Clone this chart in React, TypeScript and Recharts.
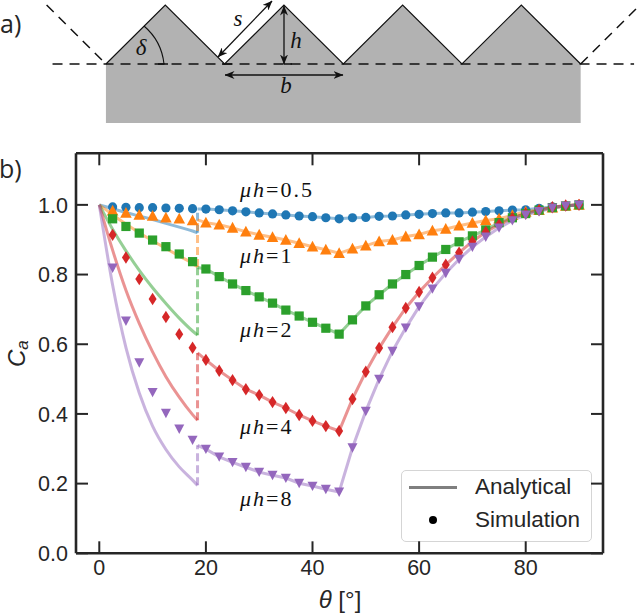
import { Area, ComposedChart, Legend, Line, XAxis, YAxis } from "recharts";

// panel b: simulation points, one every 2.5 degrees
const simTheta = [
  2.5, 5, 7.5, 10, 12.5, 15, 17.5, 20, 22.5, 25, 27.5, 30, 32.5, 35, 37.5, 40, 42.5, 45,
  47.5, 50, 52.5, 55, 57.5, 60, 62.5, 65, 67.5, 70, 72.5, 75, 77.5, 80, 82.5, 85, 87.5, 90,
];
const sim05 = [
  0.994, 0.993, 0.992, 0.992, 0.991, 0.99, 0.989, 0.988, 0.986, 0.983, 0.98, 0.977, 0.974, 0.971, 0.968, 0.966, 0.963, 0.96,
  0.963, 0.964, 0.967, 0.968, 0.971, 0.973, 0.975, 0.977, 0.977, 0.979, 0.981, 0.983, 0.985, 0.986, 0.99, 0.994, 0.997, 1.0,
];
const sim1 = [
  0.983, 0.977, 0.971, 0.968, 0.963, 0.96, 0.955, 0.949, 0.943, 0.934, 0.923, 0.914, 0.907, 0.899, 0.89, 0.88, 0.871, 0.861,
  0.874, 0.883, 0.895, 0.899, 0.909, 0.915, 0.926, 0.931, 0.94, 0.948, 0.955, 0.96, 0.97, 0.98, 0.985, 0.992, 0.997, 1.0,
];
const sim2 = [
  0.96, 0.938, 0.919, 0.899, 0.88, 0.859, 0.837, 0.816, 0.794, 0.773, 0.754, 0.736, 0.718, 0.698, 0.681, 0.663, 0.646, 0.629,
  0.67, 0.71, 0.742, 0.773, 0.8, 0.826, 0.85, 0.872, 0.894, 0.911, 0.928, 0.949, 0.963, 0.975, 0.985, 0.992, 0.997, 1.0,
];
const sim4 = [
  0.914, 0.849, 0.787, 0.73, 0.678, 0.629, 0.59, 0.555, 0.524, 0.497, 0.471, 0.454, 0.434, 0.417, 0.397, 0.38, 0.365, 0.351,
  0.443, 0.521, 0.589, 0.649, 0.704, 0.75, 0.791, 0.828, 0.863, 0.895, 0.922, 0.944, 0.962, 0.975, 0.985, 0.993, 0.998, 1.0,
];
const sim8 = [
  0.819, 0.667, 0.547, 0.462, 0.402, 0.357, 0.325, 0.299, 0.277, 0.261, 0.247, 0.233, 0.224, 0.216, 0.201, 0.193, 0.184, 0.176,
  0.303, 0.408, 0.5, 0.58, 0.647, 0.708, 0.759, 0.804, 0.844, 0.879, 0.908, 0.934, 0.955, 0.971, 0.981, 0.991, 0.997, 1.0,
];

// analytical branch below the jump at 18.43 degrees
const lowTheta = [0, 2.5, 5, 7.5, 10, 12.5, 15, 17.5, 18.43];
const low05 = [1, 0.989, 0.978, 0.968, 0.958, 0.947, 0.936, 0.925, 0.92];
const low1 = [1, 0.972, 0.945, 0.92, 0.897, 0.875, 0.853, 0.832, 0.822];
const low2 = [1, 0.93, 0.868, 0.812, 0.762, 0.717, 0.675, 0.638, 0.626];
const low4 = [1, 0.87, 0.755, 0.66, 0.578, 0.507, 0.448, 0.398, 0.382];
const low8 = [1, 0.77, 0.59, 0.46, 0.365, 0.298, 0.248, 0.21, 0.195];

// values just above the jump
const jumpTheta = 18.43;
const jumpTop = [0.988, 0.957, 0.82, 0.575, 0.31];

const xTicks = [0, 20, 40, 60, 80];
const yTicks = [0, 0.2, 0.4, 0.6, 0.8, 1.0];
const xDomain = [-4.37, 94.5];
const yDomain = [0, 1.148];

const COLORS = ["#1f77b4", "#ff7f0e", "#2ca02c", "#d62728", "#9467bd"];
const INK = "#262626";
const SANS = "'Liberation Sans', Arial, sans-serif";
const SERIF = "'Liberation Serif', serif";

// panel a: the roof profile, in units of b and h
const profileX = [0, 0.5, 1, 1.5, 2, 2.5, 3, 3.5, 4];
const profileY = [0, 1, 0, 1, 0, 1, 0, 1, 0];
const baseX = [-0.45, 4.45];
const baseY = [0, 0];
const dashLeftX = [-0.5, 0];
const dashLeftY = [1, 0];
const dashRightX = [4, 4.5];
const dashRightY = [0, 1];

const zip = (xs: number[], ys: number[]) => xs.map((x, i) => ({ x, y: ys[i] }));

const simRows = [sim05, sim1, sim2, sim4, sim8].map((ys) => zip(simTheta, ys));
const lowRows = [low05, low1, low2, low4, low8].map((ys) => zip(lowTheta, ys));
const highRows = [sim05, sim1, sim2, sim4, sim8].map((ys, i) => [
  { x: jumpTheta, y: jumpTop[i] },
  ...zip(simTheta.slice(7), ys.slice(7)),
]);
const jumpRows = lowRows.map((rows, i) => [
  rows[rows.length - 1],
  { x: jumpTheta, y: jumpTop[i] },
]);

const Marker = (kind: number) => (props: any) => {
  const { cx, cy, key } = props;
  const fill = COLORS[kind];
  if (kind === 0) return <circle key={key} cx={cx} cy={cy} r={4.6} fill={fill} />;
  if (kind === 1)
    return <path key={key} d={`M${cx} ${cy - 6}L${cx + 5.8} ${cy + 4.8}L${cx - 5.8} ${cy + 4.8}Z`} fill={fill} />;
  if (kind === 2) return <rect key={key} x={cx - 4.6} y={cy - 4.6} width={9.2} height={9.2} fill={fill} />;
  if (kind === 3)
    return <path key={key} d={`M${cx} ${cy - 6.2}L${cx + 4} ${cy}L${cx} ${cy + 6.2}L${cx - 4} ${cy}Z`} fill={fill} />;
  return <path key={key} d={`M${cx - 5} ${cy - 4.4}L${cx + 5} ${cy - 4.4}L${cx} ${cy + 5}Z`} fill={fill} />;
};

const FRAME = { stroke: INK, strokeWidth: 2.6 };
const TICK_TEXT = { fontSize: 21.5, fontFamily: SANS, fill: INK };

const LegendBox = () => (
  <div
    style={{
      position: "relative",
      width: 189,
      height: 70,
      background: "rgba(255,255,255,0.8)",
      border: "1.5px solid #d5d5d5",
      borderRadius: 5,
      fontFamily: SANS,
      fontSize: 22.5,
      color: INK,
    }}
  >
    <div style={{ position: "absolute", left: 7, top: 15, width: 48, height: 3, background: "#7f7f7f" }} />
    <div style={{ position: "absolute", left: 27, top: 45, width: 8, height: 8, borderRadius: 4, background: "#000" }} />
    <div style={{ position: "absolute", left: 73, top: 3 }}>Analytical</div>
    <div style={{ position: "absolute", left: 73, top: 36 }}>Simulation</div>
  </div>
);

const MuLabel = ({ y, value }: { y: number; value: string }) => (
  <text x={240} y={y} fontFamily={SERIF} fontSize={22} letterSpacing={2} fill="#111">
    <tspan fontStyle="italic">μh</tspan>={value}
  </text>
);

const MathText = ({ x, y, children }: any) => (
  <text x={x} y={y} fontFamily={SERIF} fontStyle="italic" fontSize={23} fill="#111" textAnchor="middle">
    {children}
  </text>
);

const PanelA = () => (
  <ComposedChart width={640} height={135} margin={{ top: 0, right: 0, bottom: 0, left: 0 }}>
    <XAxis type="number" dataKey="x" domain={[-0.8926, 4.5]} allowDataOverflow hide />
    <YAxis type="number" domain={[-1.203, 1.085]} allowDataOverflow hide />
    <Area
      data={zip(profileX, profileY)}
      dataKey="y"
      type="linear"
      baseValue={-1}
      fill="#b2b2b2"
      fillOpacity={1}
      stroke="none"
      isAnimationActive={false}
    />
    <Line data={zip(profileX, profileY)} dataKey="y" stroke="#111" strokeWidth={1.2} dot={false} isAnimationActive={false} />
    {[zip(baseX, baseY), zip(dashLeftX, dashLeftY), zip(dashRightX, dashRightY)].map((rows, i) => (
      <Line
        key={i}
        data={rows}
        dataKey="y"
        stroke="#111"
        strokeWidth={1.5}
        strokeDasharray="10 7"
        dot={false}
        isAnimationActive={false}
      />
    ))}
  </ComposedChart>
);

// arrows and symbols of the schematic, laid over the chart
const PanelANotes = () => (
  <svg width={640} height={135} style={{ position: "absolute", left: 0, top: 0 }}>
    <defs>
      <marker id="head" viewBox="0 0 10 8" refX="9.5" refY="4" markerWidth="10" markerHeight="8" orient="auto-start-reverse" markerUnits="userSpaceOnUse">
        <path d="M0 0L10 4L0 8L3 4Z" fill="#111" />
      </marker>
    </defs>
    <line x1={218} y1={57} x2={272} y2={1} stroke="#111" strokeWidth={1.3} markerStart="url(#head)" markerEnd="url(#head)" />
    <line x1={284} y1={6} x2={284} y2={64} stroke="#111" strokeWidth={1.3} markerStart="url(#head)" markerEnd="url(#head)" />
    <line x1={225} y1={75} x2={343} y2={75} stroke="#111" strokeWidth={1.3} markerStart="url(#head)" markerEnd="url(#head)" />
    <path d="M144 26A58 58 0 0 1 164 64" fill="none" stroke="#111" strokeWidth={1.1} />
    <path d="M158 64H168M222 64H232M284 64H292" stroke="#111" strokeWidth={1.5} />
    <MathText x={141} y={55}>δ</MathText>
    <MathText x={238} y={26}>s</MathText>
    <MathText x={296} y={48}>h</MathText>
    <MathText x={286} y={93}>b</MathText>
    <text x={0} y={33} fontFamily="'Open Sans', sans-serif" fontSize={25} fill={INK}>a)</text>
  </svg>
);

// inward ticks on all four sides, laid over the plot frame
const FRAME_BOX = { left: 76, right: 603, top: 153.3, bottom: 553.3 };
const TICK_LEN = 12;
const xPx = (v: number) =>
  FRAME_BOX.left + ((v - xDomain[0]) / (xDomain[1] - xDomain[0])) * (FRAME_BOX.right - FRAME_BOX.left);
const yPx = (v: number) =>
  FRAME_BOX.bottom - ((v - yDomain[0]) / (yDomain[1] - yDomain[0])) * (FRAME_BOX.bottom - FRAME_BOX.top);

const FrameTicks = () => (
  <svg width={640} height={615} style={{ position: "absolute", left: 0, top: 0, pointerEvents: "none" }}>
    {xTicks.map((v) => (
      <g key={`x${v}`} stroke={INK} strokeWidth={2}>
        <line x1={xPx(v)} x2={xPx(v)} y1={FRAME_BOX.bottom} y2={FRAME_BOX.bottom - TICK_LEN} />
        <line x1={xPx(v)} x2={xPx(v)} y1={FRAME_BOX.top} y2={FRAME_BOX.top + TICK_LEN} />
      </g>
    ))}
    {yTicks.map((v) => (
      <g key={`y${v}`} stroke={INK} strokeWidth={2}>
        <line x1={FRAME_BOX.left} x2={FRAME_BOX.left + TICK_LEN} y1={yPx(v)} y2={yPx(v)} />
        <line x1={FRAME_BOX.right} x2={FRAME_BOX.right - TICK_LEN} y1={yPx(v)} y2={yPx(v)} />
      </g>
    ))}
  </svg>
);

const PanelB = () => (
  <ComposedChart width={640} height={615} margin={{ top: 152.3, right: 36, bottom: 21.7, left: 36 }}>
    <XAxis
      type="number"
      dataKey="x"
      domain={xDomain}
      ticks={xTicks}
      height={40}
      axisLine={FRAME}
      tickLine={false}
      tickSize={0}
      tickMargin={6}
      tick={TICK_TEXT}
      interval={0}
    />
    <XAxis
      xAxisId="top"
      orientation="top"
      type="number"
      dataKey="x"
      domain={xDomain}
      height={1}
      axisLine={FRAME}
      tickLine={false}
      tick={false}
    />
    <YAxis
      type="number"
      domain={yDomain}
      ticks={yTicks}
      width={40}
      axisLine={FRAME}
      tickLine={false}
      tickSize={0}
      tickMargin={8}
      tick={TICK_TEXT}
      tickFormatter={(v: number) => v.toFixed(1)}
      interval={0}
    />
    <YAxis
      yAxisId="right"
      orientation="right"
      type="number"
      domain={yDomain}
      width={1}
      axisLine={FRAME}
      tickLine={false}
      tick={false}
    />

    {COLORS.map((c, i) => (
      <Line key={`low${i}`} type="monotone" data={lowRows[i]} dataKey="y" stroke={c} strokeOpacity={0.5} strokeWidth={3} dot={false} isAnimationActive={false} />
    ))}
    {COLORS.map((c, i) => (
      <Line key={`jump${i}`} data={jumpRows[i]} dataKey="y" stroke={c} strokeOpacity={0.5} strokeWidth={3} strokeDasharray="8 4" dot={false} isAnimationActive={false} />
    ))}
    {COLORS.map((c, i) => (
      <Line key={`high${i}`} data={highRows[i]} dataKey="y" stroke={c} strokeOpacity={0.5} strokeWidth={3} dot={false} isAnimationActive={false} />
    ))}
    {COLORS.map((c, i) => (
      <Line key={`sim${i}`} data={simRows[i]} dataKey="y" stroke="none" dot={Marker(i)} isAnimationActive={false} />
    ))}

    <MuLabel y={197} value="0.5" />
    <MuLabel y={263} value="1" />
    <MuLabel y={337} value="2" />
    <MuLabel y={434} value="4" />
    <MuLabel y={506} value="8" />

    <text x={-1} y={178} fontFamily="'Open Sans', sans-serif" fontSize={25} fill={INK}>b)</text>
    <text transform="translate(25 367) rotate(-90)" fontFamily={SANS} fontStyle="italic" fontSize={24} fill={INK}>
      C<tspan fontSize={17} dy={3}>a</tspan>
    </text>
    <text x={340} y={608} textAnchor="middle" fontFamily={SANS} fontSize={24} fill={INK}>
      <tspan fontStyle="italic">θ</tspan> [°]
    </text>

    <Legend
      verticalAlign="middle"
      content={<LegendBox />}
      wrapperStyle={{ position: "absolute", left: 401, top: 470, width: 192, height: 73, margin: 0 }}
    />
  </ComposedChart>
);

export default function App() {
  return (
    <div style={{ position: "absolute", left: 0, top: 0, width: 640, height: 615, background: "#fff" }}>
      <div style={{ position: "absolute", left: 0, top: 0 }}>
        <PanelA />
      </div>
      <PanelANotes />
      <div style={{ position: "absolute", left: 0, top: 0 }}>
        <PanelB />
      </div>
      <FrameTicks />
    </div>
  );
}
